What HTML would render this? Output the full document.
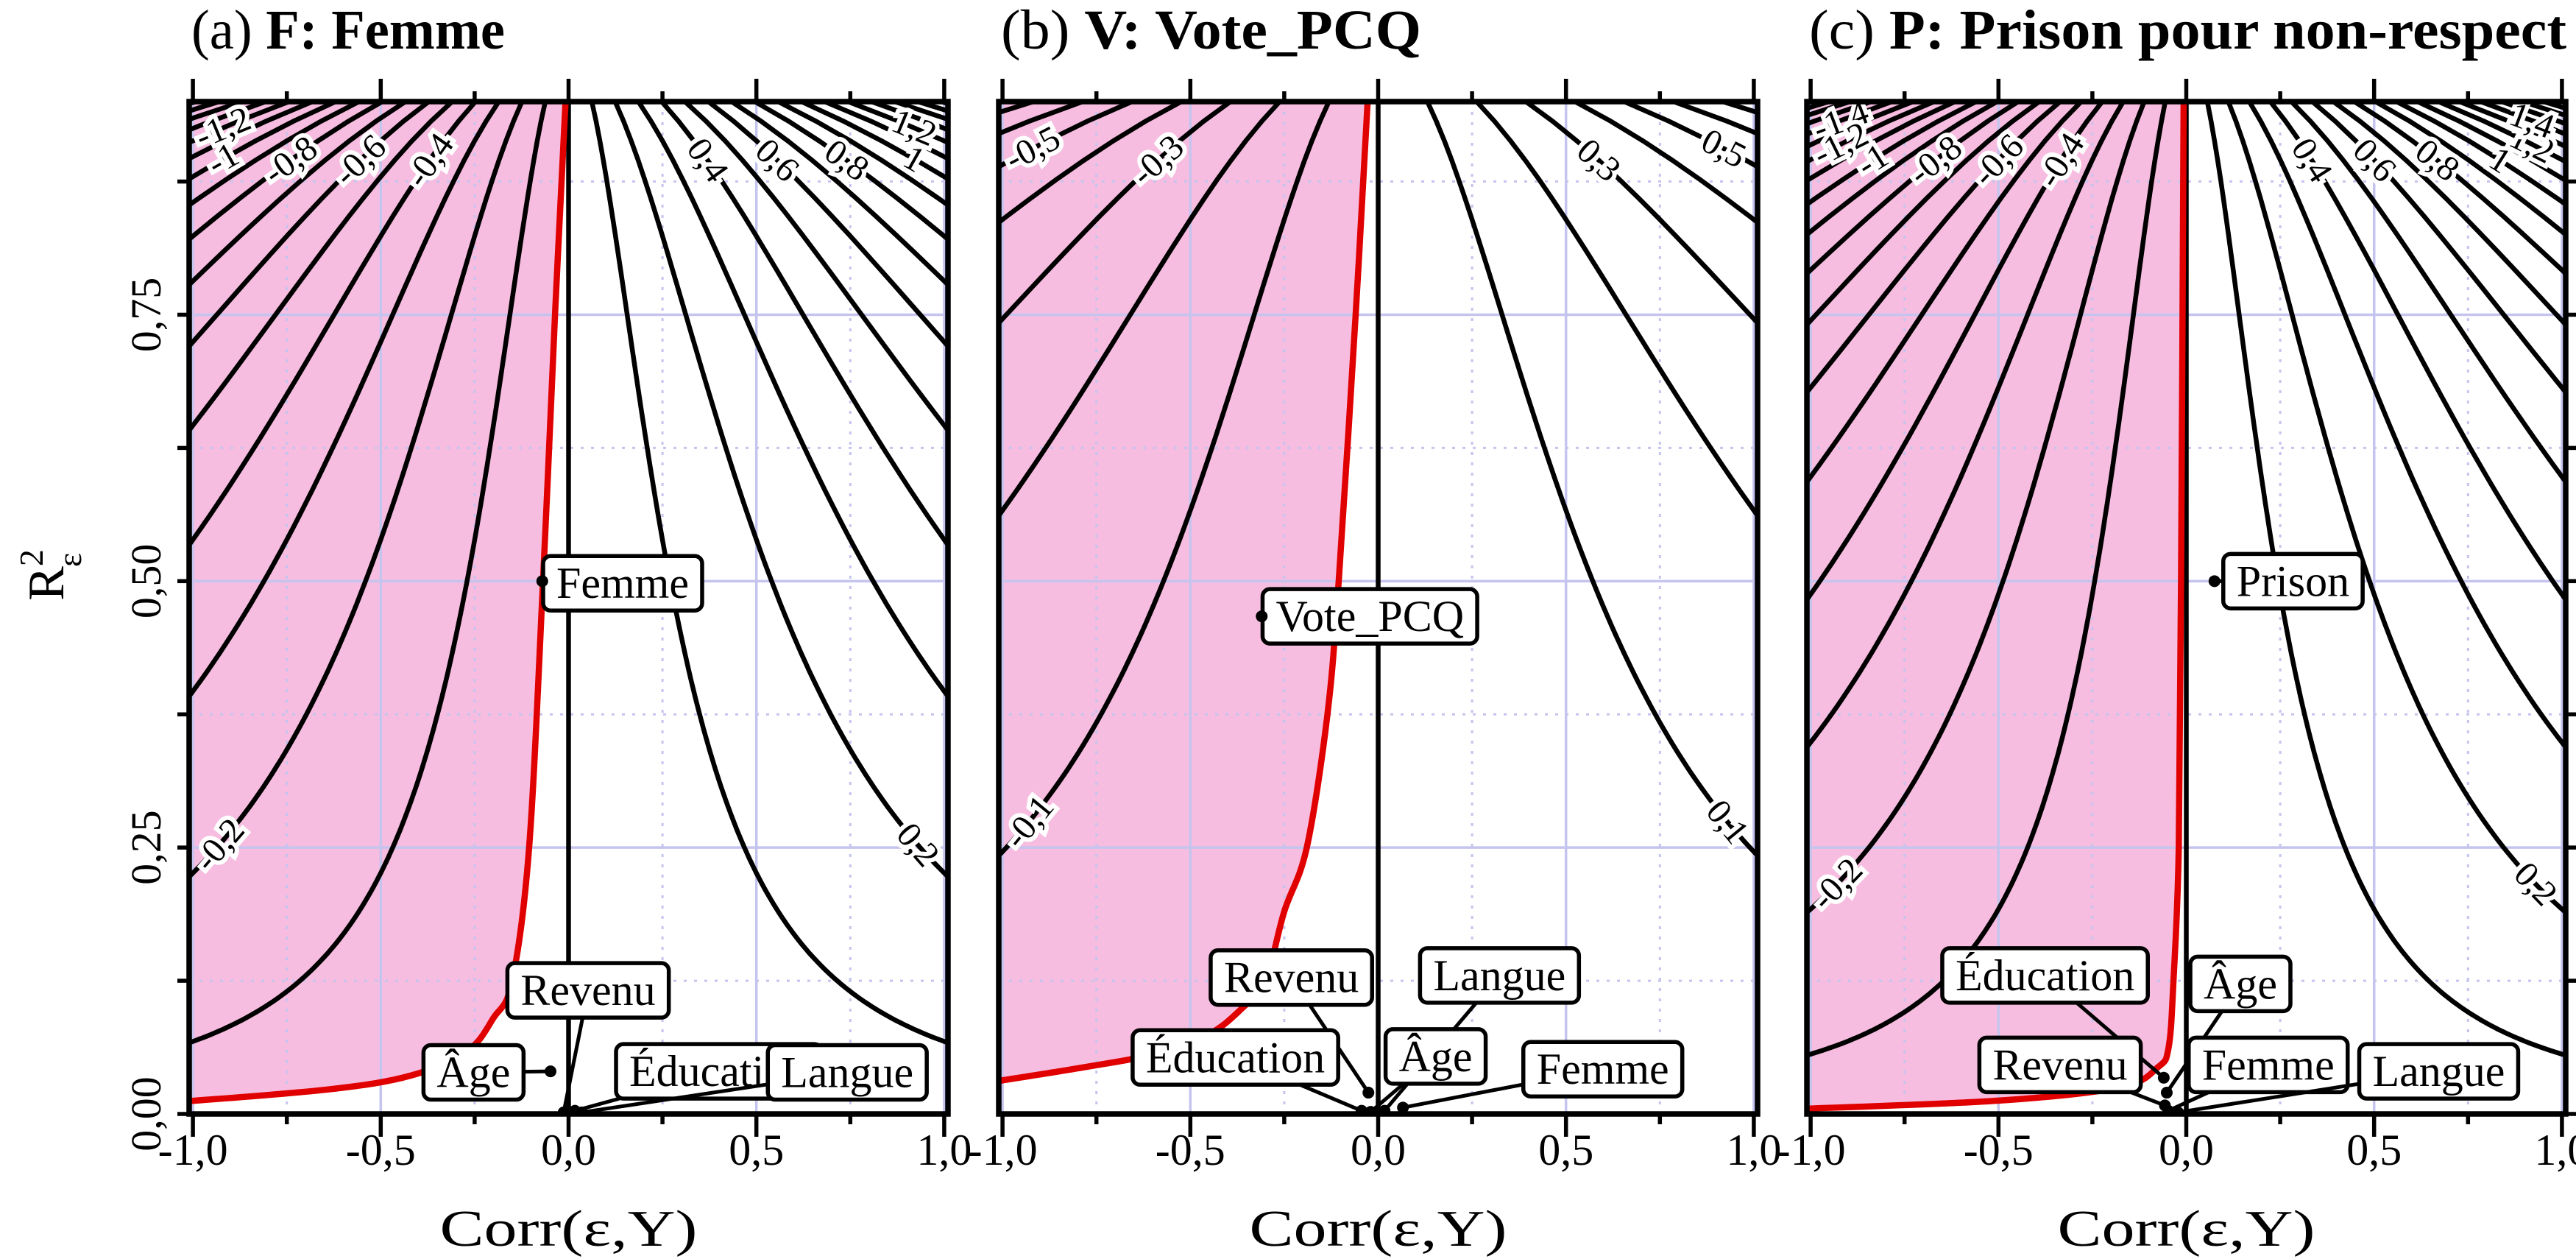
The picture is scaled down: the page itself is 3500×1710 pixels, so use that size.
<!DOCTYPE html>
<html><head><meta charset="utf-8"><style>
html,body{margin:0;padding:0;background:#fff;}
svg{display:block;font-family:"Liberation Serif",serif;}
</style></head><body>
<svg id="chart" width="3500" height="1710" viewBox="0 0 3500 1710" xmlns="http://www.w3.org/2000/svg"></svg>
<script>
// ---------- data ----------
const panelTitlesPrefix = ["(a) ", "(b) ", "(c) "];
const panelTitlesBold = ["F: Femme", "V: Vote_PCQ", "P: Prison pour non-respect"];
const panelTitleWidths = [426, 571, 1029];
const xTicks = [-1.0, -0.5, 0.0, 0.5, 1.0];
const xTickLabels = ["-1,0", "-0,5", "0,0", "0,5", "1,0"];
const xMinorTicks = [-0.75, -0.25, 0.25, 0.75];
const yTicks = [0, 0.25, 0.5, 0.75];
const yTickLabels = ["0,00", "0,25", "0,50", "0,75"];
const yMinorTicks = [0.125, 0.375, 0.625, 0.875];
// contour scale factor per panel (bias = k * corr * sqrt(R2/(1-R2)))
const contourK = [0.37, 0.175, 0.41];
const contourLevelsA = [-1.6,-1.5,-1.4,-1.3,-1.2,-1.1,-1,-0.9,-0.8,-0.7,-0.6,-0.5,-0.4,-0.3,-0.2,-0.1,0.1,0.2,0.3,0.4,0.5,0.6,0.7,0.8,0.9,1,1.1,1.2,1.3,1.4,1.5,1.6];
const contourLevelsB = [-0.7,-0.6,-0.5,-0.4,-0.3,-0.2,-0.1,0.1,0.2,0.3,0.4,0.5,0.6,0.7];
const contourLevelsC = [-1.8,-1.7,-1.6,-1.5,-1.4,-1.3,-1.2,-1.1,-1,-0.9,-0.8,-0.7,-0.6,-0.5,-0.4,-0.3,-0.2,-0.1,0.1,0.2,0.3,0.4,0.5,0.6,0.7,0.8,0.9,1,1.1,1.2,1.3,1.4,1.5,1.6,1.7,1.8];
const labelLevelsA = [-1.2,-1,-0.8,-0.6,-0.4,-0.2,0.2,0.4,0.6,0.8,1,1.2];
const labelLevelsB = [-0.5,-0.3,-0.1,0.1,0.3,0.5];
const labelLevelsC = [-1.4,-1.2,-1,-0.8,-0.6,-0.4,-0.2,0.2,0.4,0.6,0.8,1,1.2,1.4];
const edgeLabelLevel = [0.2, 0.1, 0.2];
// red threshold curve: R2 values and corr values
const redR2A = [0.95,0.75,0.5,0.25,0.125,0.09,0.059,0.036,0.023,0.012];
const redXA  = [-0.008,-0.036,-0.068,-0.105,-0.15,-0.2,-0.27,-0.42,-0.64,-1.01];
const redR2B = [0.95,0.75,0.5,0.375,0.25,0.19,0.125,0.1,0.075,0.056,0.044,0.031];
const redXB  = [-0.028,-0.06,-0.105,-0.135,-0.19,-0.25,-0.30,-0.36,-0.45,-0.6,-0.78,-1.01];
const redR2C = [0.95,0.5,0.25,0.125,0.0625,0.044,0.025,0.0125,0.005];
const redXC  = [-0.007,-0.014,-0.02,-0.034,-0.047,-0.075,-0.176,-0.5,-1.01];
// benchmark points
const ptNamesA = ["Éducation","Femme","Âge","Revenu","Langue"];
const ptXA = [0.017,-0.07,-0.048,-0.013,0.035];
const ptYA = [0.003,0.5,0.040,0.0015,0.0015];
const boxXA = [0.40,0.144,-0.253,0.052,0.742];
const boxYA = [0.040,0.498,0.039,0.116,0.039];
const ptNamesB = ["Vote_PCQ","Revenu","Langue","Éducation","Âge","Femme"];
const ptXB = [-0.31,-0.026,0.017,-0.044,-0.02,0.066];
const ptYB = [0.467,0.020,0.003,0.003,0.002,0.006];
const boxXB = [-0.022,-0.231,0.323,-0.38,0.153,0.598];
const boxYB = [0.467,0.128,0.13,0.053,0.054,0.042];
const ptNamesC = ["Prison","Éducation","Âge","Revenu","Femme","Langue"];
const ptXC = [0.075,-0.06,-0.052,-0.057,-0.048,-0.022];
const ptYC = [0.5,0.034,0.02,0.008,0.003,0.0015];
const boxXC = [0.284,-0.376,0.144,-0.336,0.218,0.672];
const boxYC = [0.5,0.13,0.122,0.046,0.046,0.040];

const contourLevels = [contourLevelsA, contourLevelsB, contourLevelsC];
const labelLevels = [labelLevelsA, labelLevelsB, labelLevelsC];
const redR2 = [redR2A, redR2B, redR2C];
const redX = [redXA, redXB, redXC];
const ptNames = [ptNamesA, ptNamesB, ptNamesC];
const ptX = [ptXA, ptXB, ptXC], ptY = [ptYA, ptYB, ptYC];
const boxX = [boxXA, boxXB, boxXC], boxY = [boxYA, boxYB, boxYC];

// ---------- layout ----------
const NS = "http://www.w3.org/2000/svg";
const svg = document.getElementById("chart");
const panelLeft = [257, 1357, 2455];
const PW = 1031, PT = 138, PB = 1513;
const XMIN = -1.01, XMAX = 1.01, YMAX = 0.95;
function mk(tag, attrs, parent) {
  const e = document.createElementNS(NS, tag);
  for (const k in attrs) e.setAttribute(k, attrs[k]);
  (parent || svg).appendChild(e);
  return e;
}
function fmt(v) { return String(Math.round(v * 10) / 10).replace(".", ","); }
const gfun = r => Math.sqrt(r / (1 - r));
function smooth(pts) {
  let d = "M" + pts[0][0].toFixed(1) + "," + pts[0][1].toFixed(1);
  for (let i = 0; i < pts.length - 1; i++) {
    const p0 = pts[Math.max(0, i - 1)], p1 = pts[i], p2 = pts[i + 1], p3 = pts[Math.min(pts.length - 1, i + 2)];
    const c1 = [p1[0] + (p2[0] - p0[0]) / 6, p1[1] + (p2[1] - p0[1]) / 6];
    const c2 = [p2[0] - (p3[0] - p1[0]) / 6, p2[1] - (p3[1] - p1[1]) / 6];
    d += "C" + c1.map(v => v.toFixed(1)).join(",") + " " + c2.map(v => v.toFixed(1)).join(",") + " " + p2.map(v => v.toFixed(1)).join(",");
  }
  return d;
}

for (let p = 0; p < 3; p++) {
  const L = panelLeft[p], R = L + PW;
  const X = v => L + (v - XMIN) / (XMAX - XMIN) * PW;
  const Y = r => PB - r / YMAX * (PB - PT);
  const k = contourK[p];

  const g = mk("g", {});
  
  
  const clip = mk("clipPath", { id: "clip" + p }, g);
  mk("rect", { x: L, y: PT, width: PW, height: PB - PT }, clip);
  const inner = mk("g", { "clip-path": "url(#clip" + p + ")" }, g);

  // pink region
  let pts = [];
  for (let i = 0; i < redR2[p].length; i++) pts.push([X(redX[p][i]), Y(redR2[p][i])]);
  pts.unshift([X(redX[p][0]), PT - 20]);
  const last = pts[pts.length - 1];
  const redD = smooth(pts);
  const pinkD = redD + "L" + (L - 40) + "," + last[1].toFixed(1) + "L" + (L - 40) + "," + (PT - 20) + "Z";
  const pink = mk("path", { d: pinkD, fill: "#f7bde0", stroke: "none" }, inner);
  
  

  // grid
  for (const v of xMinorTicks) { const l = mk("line", { x1: X(v), x2: X(v), y1: PT, y2: PB, stroke: "#c4c4ee", "stroke-width": 3, "stroke-dasharray": "4 10" }, inner);   }
  for (const v of yMinorTicks) { const l = mk("line", { x1: L, x2: R, y1: Y(v), y2: Y(v), stroke: "#c4c4ee", "stroke-width": 3, "stroke-dasharray": "4 10" }, inner);   }
  for (const v of xTicks) { const l = mk("line", { x1: X(v), x2: X(v), y1: PT, y2: PB, stroke: "#c4c4ee", "stroke-width": 3.5 }, inner);   }
  for (const v of yTicks) { const l = mk("line", { x1: L, x2: R, y1: Y(v), y2: Y(v), stroke: "#c4c4ee", "stroke-width": 3.5 }, inner);   }

  // contours
  for (const c of contourLevels[p]) {
    let d = "";
    let first = true;
    for (let i = 0; i <= 400; i++) {
      const r = 0.0003 * Math.pow(0.97 / 0.0003, i / 400);
      const xv = c / (k * gfun(r));
      if (Math.abs(xv) > 1.3) continue;
      d += (first ? "M" : "L") + X(xv).toFixed(1) + "," + Y(r).toFixed(1);
      first = false;
    }
    const path = mk("path", { d: d, fill: "none", stroke: "#000", "stroke-width": 6.5 }, inner);
    
    
  }
  const zl = mk("line", { x1: X(0), x2: X(0), y1: PT, y2: PB, stroke: "#000", "stroke-width": 6.5 }, inner);
  
  

  // red curve
  const red = mk("path", { d: redD, fill: "none", stroke: "#e00000", "stroke-width": 8.5, "stroke-linejoin": "round" }, inner);
  
  

  // contour labels
  for (const c of labelLevels[p]) {
    let xv, r;
    if (Math.abs(Math.abs(c) - edgeLabelLevel[p]) < 1e-9) {
      xv = Math.sign(c) * 0.93;
      const gg = Math.abs(c / (k * xv)); r = gg * gg / (1 + gg * gg);
    } else {
      r = 0.895;
      xv = c / (k * gfun(r));
      if (Math.abs(xv) > 0.92) { xv = Math.sign(c) * 0.92; const gg = Math.abs(c / (k * xv)); r = gg * gg / (1 + gg * gg); }
    }
    const r2 = r * 1.01, x2 = c / (k * gfun(r2));
    let ang = Math.atan2(Y(r2) - Y(r), X(x2) - X(xv)) * 180 / Math.PI;
    if (ang > 90) ang -= 180; if (ang < -90) ang += 180;
    const t = mk("text", { x: X(xv), y: Y(r), "font-size": 48, "text-anchor": "middle", "dominant-baseline": "central", fill: "#000", stroke: "#fff", "stroke-width": 12, "paint-order": "stroke", transform: "rotate(" + ang.toFixed(1) + " " + X(xv).toFixed(1) + " " + Y(r).toFixed(1) + ")" }, inner);
    t.textContent = fmt(c);
    
    
  }

  // border
  const border = mk("rect", { x: L, y: PT, width: PW, height: PB - PT, fill: "none", stroke: "#000", "stroke-width": 7.5 }, g);
  
  

  // x ticks
  xTicks.forEach((v, i) => {
    mk("line", { x1: X(v), x2: X(v), y1: PT, y2: PT - 31, stroke: "#000", "stroke-width": 5.5 }, g);
    mk("line", { x1: X(v), x2: X(v), y1: PB, y2: PB + 31, stroke: "#000", "stroke-width": 5.5 }, g);
    const t = mk("text", { x: X(v), y: 1582, "font-size": 60, "text-anchor": "middle", fill: "#000" }, g);
    t.textContent = xTickLabels[i];
    
    
  });
  xMinorTicks.forEach(v => {
    mk("line", { x1: X(v), x2: X(v), y1: PT, y2: PT - 14, stroke: "#000", "stroke-width": 5.5 }, g);
    mk("line", { x1: X(v), x2: X(v), y1: PB, y2: PB + 14, stroke: "#000", "stroke-width": 5.5 }, g);
  });
  // y ticks
  if (p === 0 || p === 2) {
    const ex = p === 0 ? L : R, dir = p === 0 ? -1 : 1;
    yTicks.concat(yMinorTicks).forEach(v => {
      mk("line", { x1: ex, x2: ex + dir * 16, y1: Y(v), y2: Y(v), stroke: "#000", "stroke-width": 5.5 }, g);
    });
  }
  if (p === 0) {
    yTicks.forEach((v, i) => {
      const t = mk("text", { x: 218, y: Y(v), "font-size": 58, "text-anchor": "middle", fill: "#000", transform: "rotate(-90 218 " + Y(v) + ")" }, g);
      t.textContent = yTickLabels[i];
      
      
    });
    const yt = mk("text", { x: 86, y: 781, "font-size": 70, "text-anchor": "middle", fill: "#000", transform: "rotate(-90 86 781)" }, g);
    yt.innerHTML = 'R<tspan dy="-28" font-size="46">2</tspan><tspan dy="52" dx="-24" font-size="46">ε</tspan>';
    
    
  }
  // x axis title
  const xt = mk("text", { x: L + PW / 2, y: 1692, "font-size": 70, "text-anchor": "middle", fill: "#000", textLength: 350, lengthAdjust: "spacingAndGlyphs" }, g);
  xt.textContent = "Corr(ε,Y)";
  
  

  // title
  const tt = mk("text", { x: L + 3, y: 66, "font-size": 76, fill: "#000", textLength: panelTitleWidths[p], lengthAdjust: "spacingAndGlyphs" }, g);
  tt.innerHTML = panelTitlesPrefix[p] + '<tspan font-weight="bold">' + panelTitlesBold[p] + '</tspan>';
  
  

  // benchmark points and labels
  const lab = mk("g", { "clip-path": "url(#clip" + p + ")" }, g);
  ptNames[p].forEach((nm, i) => {
    const px = X(ptX[p][i]), py = Y(ptY[p][i]);
    const bx = X(boxX[p][i]), by = Y(boxY[p][i]);
    const grp = mk("g", {}, lab);
    
    
    const t = mk("text", { x: bx, y: by, "font-size": 60, "text-anchor": "middle", "dominant-baseline": "central", fill: "#000" }, grp);
    t.textContent = nm;
    const w = t.getComputedTextLength() + 36, h = 74;
    let lx = bx, ly = by;
    const dx = px - bx, dy = py - by;
    const s = Math.min(Math.abs(w / 2 / (dx || 1e-9)), Math.abs(h / 2 / (dy || 1e-9)));
    if (s < 1) { lx = bx + dx * s; ly = by + dy * s;
      const ln = mk("line", { x1: lx, y1: ly, x2: px, y2: py, stroke: "#000", "stroke-width": 5 }, grp);
      grp.insertBefore(ln, t);
    }
    const rc = mk("rect", { x: bx - w / 2, y: by - h / 2, width: w, height: h, rx: 10, fill: "#fff", stroke: "#000", "stroke-width": 5.5 }, grp);
    grp.insertBefore(rc, t);
    const dot = mk("circle", { cx: px, cy: py, r: 8, fill: "#000" }, grp);
    
    
  });
}
</script>
</body></html>
